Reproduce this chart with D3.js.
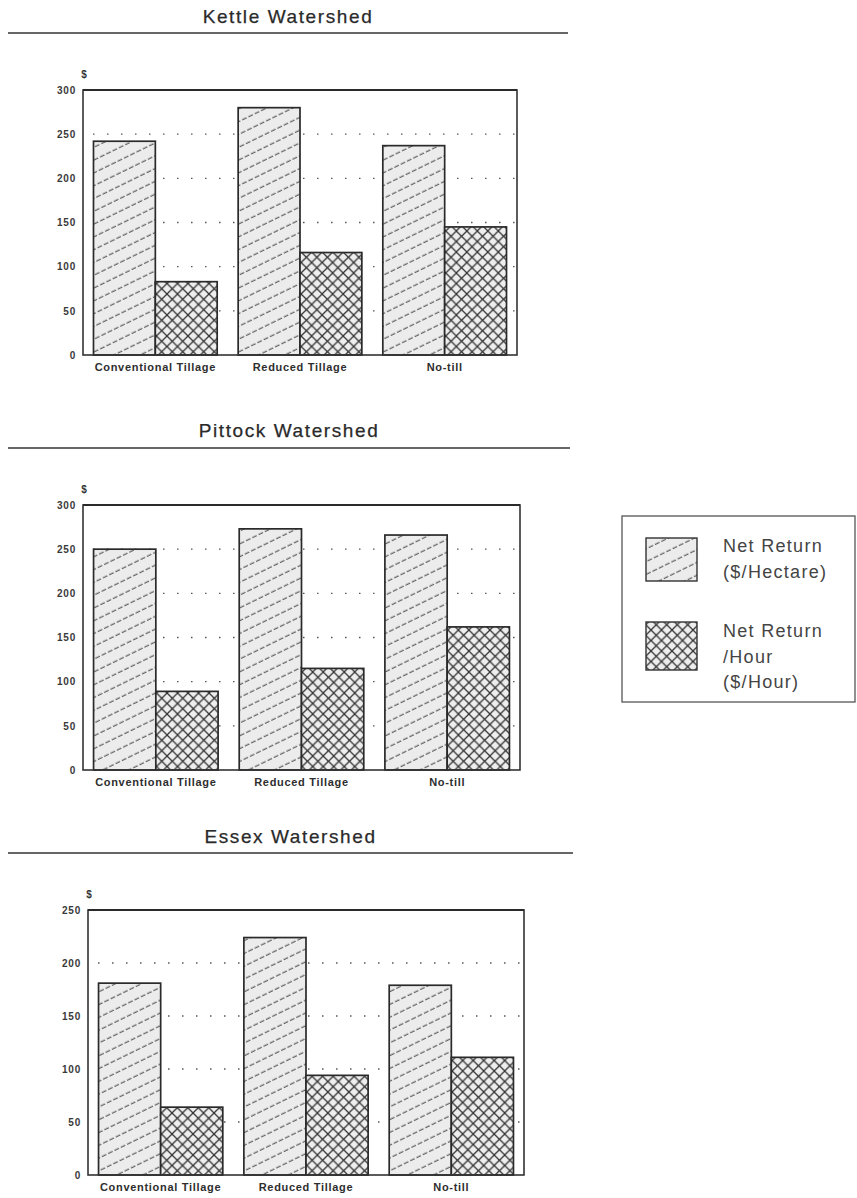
<!DOCTYPE html>
<html>
<head>
<meta charset="utf-8">
<script src="https://cdn.jsdelivr.net/npm/d3@7"></script>
<style>
  html, body { margin: 0; padding: 0; background: #fff; }
  svg { display: block; }
  text { font-family: "Liberation Sans", Arial, sans-serif; }
</style>
</head>
<body>
<div id="chart"></div>
<script>
// values
const categories = ['Conventional Tillage', 'Reduced Tillage', 'No-till'];
const seriesKeys = ['hectare', 'hour'];
const kettleHectare = [242, 280, 237];
const kettleHour = [83, 116, 145];
const pittockHectare = [250, 273, 266];
const pittockHour = [89, 115, 162];
const essexHectare = [181, 224, 179];
const essexHour = [64, 94, 111];
const ticks300 = [0, 50, 100, 150, 200, 250, 300];
const ticks250 = [0, 50, 100, 150, 200, 250];
const legendLines = [['Net Return', '($/Hectare)'], ['Net Return', '/Hour', '($/Hour)']];

const panels = [
  { title: 'Kettle Watershed', hectare: kettleHectare, hour: kettleHour, ticks: ticks300,
    titleY: 23, ruleY: 33, ruleX: [8, 568], frame: { left: 83, right: 517, top: 90, bottom: 355 } },
  { title: 'Pittock Watershed', hectare: pittockHectare, hour: pittockHour, ticks: ticks300,
    titleY: 437, ruleY: 448, ruleX: [8, 570], frame: { left: 83, right: 520, top: 505, bottom: 770 } },
  { title: 'Essex Watershed', hectare: essexHectare, hour: essexHour, ticks: ticks250,
    titleY: 843, ruleY: 853, ruleX: [8, 573], frame: { left: 88, right: 524, top: 910, bottom: 1175 } },
];

const W = 857, H = 1198;
const svg = d3.select('#chart').append('svg').attr('width', W).attr('height', H);
const defs = svg.append('defs');

// diagonal hatch for $/hectare
const hatch = defs.append('pattern').attr('id', 'hatch')
  .attr('patternUnits', 'userSpaceOnUse').attr('width', 14).attr('height', 11.5)
  .attr('patternTransform', 'rotate(-26)');
hatch.append('rect').attr('width', 14).attr('height', 11.5).attr('fill', '#ececec');
hatch.append('line').attr('x1', 0).attr('y1', 6).attr('x2', 14).attr('y2', 6)
  .attr('stroke', '#3c3c3c').attr('stroke-width', 1.1).attr('stroke-dasharray', '5 2');

// cross hatch for $/hour
const cross = defs.append('pattern').attr('id', 'cross')
  .attr('patternUnits', 'userSpaceOnUse').attr('width', 10.5).attr('height', 10.5);
cross.append('rect').attr('width', 10.5).attr('height', 10.5).attr('fill', '#eeeeee');
cross.append('path').attr('d', 'M0,0L10.5,10.5M0,10.5L10.5,0')
  .attr('stroke', '#333').attr('stroke-width', 1.3).attr('fill', 'none');

const fills = { hectare: 'url(#hatch)', hour: 'url(#cross)' };

panels.forEach((p) => {
  const f = p.frame;
  const g = svg.append('g');
  const ymax = d3.max(p.ticks);

  const x0 = d3.scaleBand().domain(categories).range([f.left, f.right])
    .paddingInner(0.145).paddingOuter(0.0725);
  const x1 = d3.scaleBand().domain(seriesKeys).range([0, x0.bandwidth()]);
  const y = d3.scaleLinear().domain([0, ymax]).range([f.bottom, f.top]);

  // title + rule
  g.append('text').attr('x', (p.ruleX[0] + p.ruleX[1]) / 2).attr('y', p.titleY)
    .attr('text-anchor', 'middle').attr('font-size', 19).attr('letter-spacing', 1.6)
    .attr('fill', '#2a2a2a').attr('stroke', '#2a2a2a').attr('stroke-width', 0.25).text(p.title);
  g.append('line').attr('x1', p.ruleX[0]).attr('x2', p.ruleX[1])
    .attr('y1', p.ruleY).attr('y2', p.ruleY).attr('stroke', '#333').attr('stroke-width', 1.6);

  // dotted grid
  g.append('g').selectAll('line').data(p.ticks.filter((t) => t > 0 && t < ymax)).join('line')
    .attr('x1', f.left + 10).attr('x2', f.right)
    .attr('y1', (d) => y(d)).attr('y2', (d) => y(d))
    .attr('stroke', '#555').attr('stroke-width', 1.3).attr('stroke-dasharray', '1.5 12.5');

  // bars
  const rows = categories.map((c, i) => ({ cat: c, hectare: p.hectare[i], hour: p.hour[i] }));
  g.append('g').selectAll('g').data(rows).join('g')
    .attr('transform', (d) => `translate(${x0(d.cat)},0)`)
    .selectAll('rect').data((d) => seriesKeys.map((k) => ({ key: k, value: d[k] }))).join('rect')
    .attr('x', (d) => x1(d.key)).attr('width', x1.bandwidth())
    .attr('y', (d) => y(d.value)).attr('height', (d) => y(0) - y(d.value))
    .attr('fill', (d) => fills[d.key]).attr('stroke', '#2a2a2a').attr('stroke-width', 1.7);

  // frame
  g.append('rect').attr('x', f.left).attr('y', f.top)
    .attr('width', f.right - f.left).attr('height', f.bottom - f.top)
    .attr('fill', 'none').attr('stroke', '#333').attr('stroke-width', 1.6);
  g.append('line').attr('x1', f.left).attr('x2', f.right).attr('y1', f.top).attr('y2', f.top)
    .attr('stroke', '#2a2a2a').attr('stroke-width', 2.2);

  // y axis labels
  const yAxis = g.append('g').attr('transform', `translate(${f.left},0)`)
    .call(d3.axisLeft(y).tickValues(p.ticks).tickSize(0).tickPadding(7));
  yAxis.select('.domain').remove();
  yAxis.selectAll('text').attr('font-family', '"Liberation Sans", Arial, sans-serif')
    .attr('font-size', 10).attr('font-weight', 'bold').attr('letter-spacing', 0.8)
    .attr('fill', '#3a3a3a');

  g.append('text').attr('x', f.left + 1).attr('y', f.top - 12).attr('text-anchor', 'middle')
    .attr('font-size', 10).attr('font-weight', 'bold').attr('fill', '#333').text('$');

  // category labels
  g.append('g').selectAll('text').data(categories).join('text')
    .attr('x', (d) => x0(d) + x0.bandwidth() / 2).attr('y', f.bottom + 16)
    .attr('text-anchor', 'middle').attr('font-size', 11).attr('font-weight', 'bold')
    .attr('letter-spacing', 0.7).attr('fill', '#2e2e2e').text((d) => d);
});

// legend
const legend = svg.append('g');
legend.append('rect').attr('x', 622).attr('y', 516).attr('width', 233).attr('height', 186)
  .attr('fill', 'none').attr('stroke', '#555').attr('stroke-width', 1.3);
const legendRows = [
  { key: 'hectare', sy: 538, sh: 43, ty: 552 },
  { key: 'hour', sy: 622, sh: 48, ty: 637 },
];
legendRows.forEach((r, i) => {
  legend.append('rect').attr('x', 646).attr('y', r.sy).attr('width', 51).attr('height', r.sh)
    .attr('fill', fills[r.key]).attr('stroke', '#333').attr('stroke-width', 1.4);
  legend.append('g').selectAll('text').data(legendLines[i]).join('text')
    .attr('x', 723).attr('y', (d, j) => r.ty + j * 25.5)
    .attr('font-size', 18).attr('letter-spacing', 1.3).attr('fill', '#444').text((d) => d);
});
</script>
</body>
</html>
